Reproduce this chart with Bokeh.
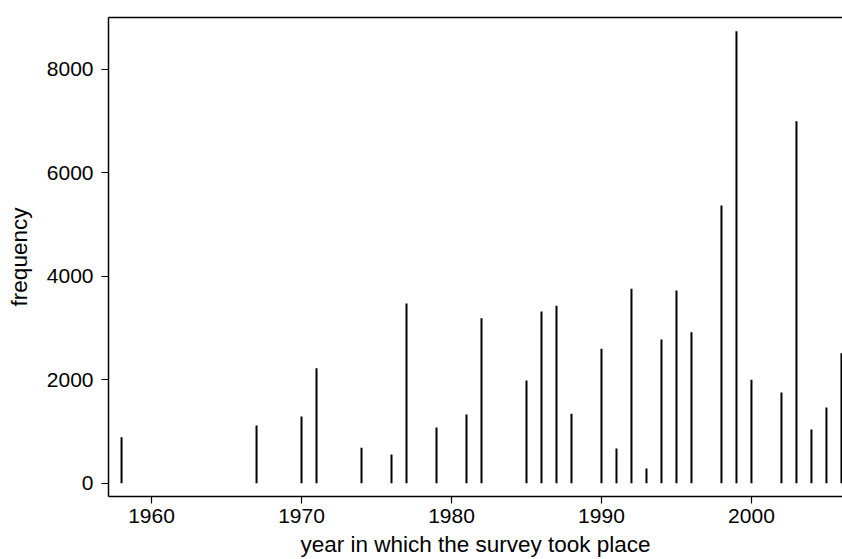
from bokeh.plotting import figure
from bokeh.models import Range1d, LinearAxis, FixedTicker
from bokeh.embed import file_html
from bokeh.resources import INLINE

years = [1958, 1967, 1970, 1971, 1974, 1976, 1977, 1979, 1981, 1982,
         1985, 1986, 1987, 1988, 1990, 1991, 1992, 1993, 1994, 1995,
         1996, 1998, 1999, 2000, 2002, 2003, 2004, 2005, 2006]
frequency = [889, 1115, 1289, 2222, 684, 554, 3472, 1076, 1327, 3188,
             1984, 3317, 3427, 1341, 2597, 670, 3756, 284, 2776, 3723,
             2917, 5365, 8733, 1998, 1752, 6994, 1037, 1462, 2512]
x_ticks = [1960, 1970, 1980, 1990, 2000]
y_ticks = [0, 2000, 4000, 6000, 8000]
zeros = [0] * len(years)

FONT = "Liberation Sans"

p = figure(width=842, height=559, output_backend="svg", toolbar_location=None,
           x_range=Range1d(1957.13, 2006.07), y_range=Range1d(-257, 8997),
           min_border_left=108, min_border_right=0, min_border_top=17,
           min_border_bottom=63)
p.outline_line_color = None
p.xgrid.visible = False
p.ygrid.visible = False
p.background_fill_color = "white"
p.border_fill_color = "white"

p.segment(x0=years, y0=zeros, x1=years, y1=frequency, line_color="black", line_width=2)

for ax in (p.xaxis[0], p.yaxis[0]):
    ax.axis_line_color = "black"
    ax.axis_line_width = 1.5
    ax.major_tick_line_color = "black"
    ax.major_tick_line_width = 1.2
    ax.major_tick_out = 7
    ax.major_tick_in = 0
    ax.minor_tick_line_color = None
    ax.major_label_text_font = FONT
    ax.major_label_text_font_size = "21px"
    ax.major_label_text_color = "black"
    ax.axis_label_text_font = FONT
    ax.axis_label_text_font_size = "22.5px"
    ax.axis_label_text_font_style = "normal"
    ax.axis_label_text_color = "black"

p.xaxis.ticker = FixedTicker(ticks=x_ticks)
p.yaxis.ticker = FixedTicker(ticks=y_ticks)
p.xaxis.axis_label = "year in which the survey took place"
p.yaxis.axis_label = "frequency"
p.xaxis.major_label_standoff = 5
p.yaxis.major_label_standoff = 8
p.xaxis.axis_label_standoff = 6
p.yaxis.axis_label_standoff = 12

top = LinearAxis(ticker=FixedTicker(ticks=[]), axis_line_color="black", axis_line_width=1.5,
                 major_tick_line_color=None, minor_tick_line_color=None,
                 major_label_text_font_size="0px")
p.add_layout(top, "above")

open("out.html", "w").write(file_html(p, INLINE))
